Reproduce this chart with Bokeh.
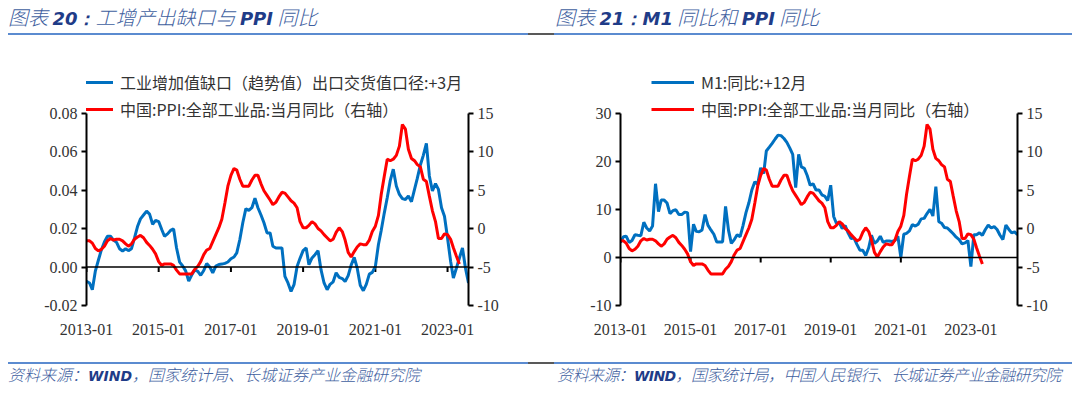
import pandas as pd
from bokeh.plotting import figure
from bokeh.models import (LinearAxis, Range1d, DatetimeTickFormatter, FixedTicker,
                          Span, Legend, LegendItem, Div, NumeralTickFormatter, Spacer)
from bokeh.layouts import column, row
from bokeh.embed import file_html
from bokeh.resources import INLINE

# ---------------- data ----------------
# 工业增加值缺口（趋势值）出口交货值口径, shifted +3 months, monthly from 2013-01
gap_start = "2013-01-01"
gap_values = [
    -0.0075, -0.0083, -0.0118, -0.0020, 0.0035, 0.0090, 0.0130, 0.0160, 0.0160, 0.0140, 0.0128, 0.0095,
    0.0083, 0.0095, 0.0085, 0.0095, 0.0150, 0.0210, 0.0250, 0.0270, 0.0290, 0.0275, 0.0222, 0.0242,
    0.0236, 0.0195, 0.0160, 0.0172, 0.0190, 0.0198, 0.0099, 0.0025, 0.0005, -0.0020, -0.0073, -0.0042,
    -0.0015, -0.0023, -0.0043, -0.0018, 0.0018, 0.0000, -0.0030, 0.0005, 0.0013, 0.0015, 0.0019, 0.0026,
    0.0043, 0.0052, 0.0073, 0.0143, 0.0230, 0.0303, 0.0294, 0.0308, 0.0357, 0.0308, 0.0270, 0.0230,
    0.0177, 0.0177, 0.0108, 0.0099, 0.0099, 0.0099, -0.0049, -0.0083, -0.0127, -0.0092, 0.0003, 0.0045,
    0.0085, 0.0099, 0.0012, 0.0047, 0.0064, 0.0085, -0.0014, -0.0083, -0.0118, -0.0090, -0.0077, -0.0030,
    -0.0054, -0.0060, -0.0075, -0.0045, 0.0010, 0.0050, -0.0005, -0.0095, -0.0123, -0.0090, -0.0037, -0.0028,
    0.0003, 0.0117, 0.0190, 0.0280, 0.0360, 0.0450, 0.0508, 0.0421, 0.0377, 0.0355, 0.0351, 0.0369,
    0.0339, 0.0403, 0.0460, 0.0530, 0.0580, 0.0642, 0.0473, 0.0395, 0.0433, 0.0403, 0.0308, 0.0264,
    0.0151, 0.0030, -0.0057, -0.0005, 0.0047, 0.0099, -0.0005, -0.0083,
]
# 中国:PPI:全部工业品:当月同比, monthly from 2013-01
ppi_start = "2013-01-01"
ppi_values = [
    -1.6, -1.6, -1.9, -2.6, -2.9, -2.7, -2.3, -1.6, -1.3, -1.5, -1.4, -1.4,
    -1.6, -2.0, -2.3, -2.0, -1.4, -1.1, -0.9, -1.2, -1.8, -2.2, -2.7, -3.3,
    -4.3, -4.8, -4.6, -4.6, -4.6, -4.8, -5.4, -5.9, -5.9, -5.9, -5.9, -5.9,
    -5.3, -4.9, -4.3, -3.4, -2.8, -2.6, -1.7, -0.8, 0.1, 1.2, 3.3, 5.5,
    6.9, 7.8, 7.6, 6.4, 5.5, 5.5, 5.5, 6.3, 6.9, 6.9, 5.8, 4.9,
    4.3, 3.7, 3.1, 3.4, 4.1, 4.7, 4.6, 4.1, 3.6, 3.3, 2.7, 0.9,
    0.1, 0.1, 0.4, 0.9, 0.6, 0.0, -0.3, -0.8, -1.2, -1.6, -1.4, -0.5,
    0.1, -0.4, -1.5, -3.1, -3.7, -3.0, -2.4, -2.0, -2.1, -2.1, -1.5, -0.4,
    0.3, 1.7, 4.4, 6.8, 9.0, 8.8, 9.0, 9.5, 10.7, 13.5, 12.9, 10.3,
    9.1, 8.8, 8.3, 8.0, 6.4, 6.1, 4.2, 2.3, 0.9, -1.3, -1.3, -0.7,
    -0.8, -1.4, -2.5, -3.6, -4.6,
]
# M1:同比 (2012-01 onward) plotted +12 months, i.e. from 2013-01
m1_start = "2013-01-01"
m1_values = [
    3.1, 4.3, 4.4, 3.1, 3.5, 4.7, 4.6, 4.5, 7.3, 6.1, 5.5, 6.5,
    15.3, 9.5, 11.9, 11.9, 11.3, 9.1, 9.7, 9.9, 8.9, 8.9, 9.4, 9.3,
    1.2, 6.9, 5.4, 5.3, 5.7, 8.9, 6.7, 5.7, 4.8, 3.2, 3.2, 3.2,
    10.6, 5.6, 2.9, 3.7, 4.7, 4.3, 6.6, 9.3, 11.4, 14.0, 15.7, 15.2,
    18.6, 17.4, 22.1, 22.9, 23.7, 24.6, 25.4, 25.3, 24.7, 23.9, 22.7, 21.4,
    14.5, 21.4, 18.8, 18.5, 17.0, 15.0, 15.3, 14.0, 14.0, 13.0, 12.7, 11.8,
    15.0, 8.5, 7.1, 7.2, 6.0, 6.6, 5.1, 3.9, 4.0, 2.7, 1.5, 1.5,
    0.4, 2.0, 4.6, 2.9, 3.4, 4.4, 3.1, 3.4, 3.4, 3.3, 3.5, 4.4,
    0.0, 4.8, 5.0, 5.5, 6.8, 6.5, 6.9, 8.0, 8.1, 9.1, 10.0, 8.6,
    14.7, 7.4, 7.1, 6.2, 6.1, 5.5, 4.9, 4.2, 3.7, 2.8, 3.0, 3.5,
    -1.9, 4.7, 4.7, 5.1, 4.6, 5.8, 6.7, 6.1, 6.4, 5.8, 4.6, 3.7,
    6.7, 5.8, 5.1, 5.3, 4.7,
]

gap_label = "工业增加值缺口（趋势值）出口交货值口径:+3月"
ppi_label = "中国:PPI:全部工业品:当月同比（右轴）"
m1_label = "M1:同比:+12月"

x_tick_labels = ["2013-01", "2015-01", "2017-01", "2019-01", "2021-01", "2023-01"]
gap_ticks = [-0.02, 0.0, 0.02, 0.04, 0.06, 0.08]
ppi_ticks = [-10, -5, 0, 5, 10, 15]
m1_ticks = [-10, 0, 10, 20, 30]

title_left = [("图表 ", 0), ("20：", 1), ("工增产出缺口与 ", 0), ("PPI", 1), (" 同比", 0)]
title_right = [("图表 ", 0), ("21：", 1), ("M1", 1), (" 同比和 ", 0), ("PPI", 1), (" 同比", 0)]
source_left = [("资料来源：", 0), ("WIND", 1), ("，国家统计局、长城证券产业金融研究院", 0)]
source_right = [("资料来源：", 0), ("WIND", 1), ("，国家统计局，中国人民银行、长城证券产业金融研究院", 0)]

# ---------------- style ----------------
BLUE = "#0070C0"
RED = "#FF0000"
TXT_BLUE = "#3F5F9F"
DARK_BLUE = "#1F3C88"
RULE_BLUE = "#5B8BD0"
RULE_GRAY = "#595959"
CJK = "'Noto Sans CJK SC', sans-serif"
NUM_FONT = "Liberation Serif"

FIG_H = 327
BORDER_TOP = 27
FRAME_H = 243
BORDER_BOTTOM = FIG_H - BORDER_TOP - FRAME_H
AXIS_PX = 192.5   # pixels between lowest and highest tick
LEGEND_TOP = 12   # legend top below frame top
LEGEND_H = 47


def months(start, n):
    return pd.date_range(start, periods=n, freq="MS")


def padded_range(ticks):
    lo, hi = ticks[0], ticks[-1]
    return Range1d(lo, lo + (hi - lo) * FRAME_H / AXIS_PX)


def style_axis(ax, ticks, fmt):
    ax.ticker = FixedTicker(ticks=ticks)
    ax.formatter = fmt
    ax.bounds = (ticks[0], ticks[-1])
    ax.axis_line_color = "black"
    ax.axis_line_width = 2
    ax.major_tick_line_color = "black"
    ax.major_tick_line_width = 2
    ax.major_tick_out = 5
    ax.major_tick_in = 0
    ax.minor_tick_line_color = None
    ax.major_label_standoff = 4
    ax.major_label_text_font = NUM_FONT
    ax.major_label_text_font_size = "16px"
    ax.major_label_text_color = "#333333"


def build(width, border_left, border_right, left_ticks, left_fmt,
          blue_x, blue_y, blue_label, legend_dx):
    ppi_x = months(ppi_start, len(ppi_values))
    x_end = max(blue_x[-1], ppi_x[-1])
    p = figure(width=width, height=FIG_H, x_axis_type="datetime",
               x_range=Range1d(blue_x[0], x_end), y_range=padded_range(left_ticks),
               output_backend="svg", toolbar_location=None,
               min_border_left=border_left, min_border_right=border_right,
               min_border_top=BORDER_TOP, min_border_bottom=BORDER_BOTTOM)
    p.outline_line_color = None
    p.grid.visible = False
    p.background_fill_color = "white"
    p.border_fill_color = "white"
    p.extra_y_ranges = {"ppi": padded_range(ppi_ticks)}

    style_axis(p.yaxis[0], left_ticks, left_fmt)
    rax = LinearAxis(y_range_name="ppi")
    style_axis(rax, ppi_ticks, NumeralTickFormatter(format="0"))
    p.add_layout(rax, "right")

    tick_dates = [pd.Timestamp(t + "-01") for t in x_tick_labels]
    xa = p.xaxis[0]
    xa.ticker = FixedTicker(ticks=[t.value // 10**6 for t in tick_dates])
    xa.formatter = DatetimeTickFormatter(years="%Y-%m", months="%Y-%m", days="%Y-%m")
    xa.axis_line_color = None
    xa.major_tick_line_color = None
    xa.minor_tick_line_color = None
    xa.major_label_standoff = 12
    xa.major_label_text_font = NUM_FONT
    xa.major_label_text_font_size = "16px"
    xa.major_label_text_color = "#333333"

    # zero line with date tick marks
    p.add_layout(Span(location=0, dimension="width", line_color="black", line_width=1.5))
    span = (left_ticks[-1] - left_ticks[0]) / AXIS_PX
    p.segment(x0=tick_dates, y0=0, x1=tick_dates, y1=-5 * span,
              line_color="black", line_width=2)

    rb = p.line(blue_x, blue_y, line_color=BLUE, line_width=3)
    rr = p.line(ppi_x, ppi_values, line_color=RED, line_width=3, y_range_name="ppi")

    legend = Legend(items=[LegendItem(label=blue_label, renderers=[rb]),
                           LegendItem(label=ppi_label, renderers=[rr])],
                    location=(legend_dx, FRAME_H - LEGEND_TOP - LEGEND_H),
                    glyph_width=43, glyph_height=20, label_height=20,
                    label_standoff=7, spacing=3, padding=0, margin=0,
                    border_line_color=None, background_fill_alpha=0,
                    label_text_font="Noto Sans CJK SC", label_text_font_size="16px",
                    label_text_color="#333333")
    p.add_layout(legend)
    return p


left = build(540, 78, 80, gap_ticks, NumeralTickFormatter(format="0.00"),
             months(gap_start, len(gap_values)), gap_values, gap_label, -16)
right = build(524, 72, 55, m1_ticks, NumeralTickFormatter(format="0"),
              months(m1_start, len(m1_values)), m1_values, m1_label, 31)


def rich(parts, size):
    out = []
    for txt, latin in parts:
        if latin:
            out.append(f'<span style="font-family:\'DejaVu Sans\';font-weight:bold;color:{DARK_BLUE};font-size:{size - 2}px">{txt}</span>')
        else:
            out.append(f'<span style="font-weight:300">{txt}</span>')
    return "".join(out)


def text_div(parts, width, height, size, line_h, pad_left, tracking=0.0):
    return Div(text=rich(parts, size), width=width, height=height, margin=(0, 0, 0, 0),
               styles={"font-family": CJK, "font-style": "italic", "font-size": f"{size}px",
                       "color": TXT_BLUE, "white-space": "nowrap", "line-height": f"{line_h}px",
                       "padding-left": f"{pad_left}px", "overflow": "visible",
                       "letter-spacing": f"{tracking}px"})


def rule(width, color):
    return Div(text="", width=width, height=2, margin=(0, 0, 0, 0),
               styles={"background-color": color})


def rules():
    return row(rule(520, RULE_BLUE), rule(26, RULE_GRAY), rule(518, RULE_BLUE))


body = column(
    row(text_div(title_left, 547, 25, 20, 17, 0), text_div(title_right, 517, 25, 20, 17, 0)),
    rules(),
    row(left, right),
    rules(),
    row(text_div(source_left, 547, 20, 16, 20, 0),
        text_div(source_right, 517, 20, 16, 20, 2, -0.6)),
)

layout = column(Spacer(height=8), row(Spacer(width=8), body))

open("out.html", "w").write(file_html(layout, INLINE))
